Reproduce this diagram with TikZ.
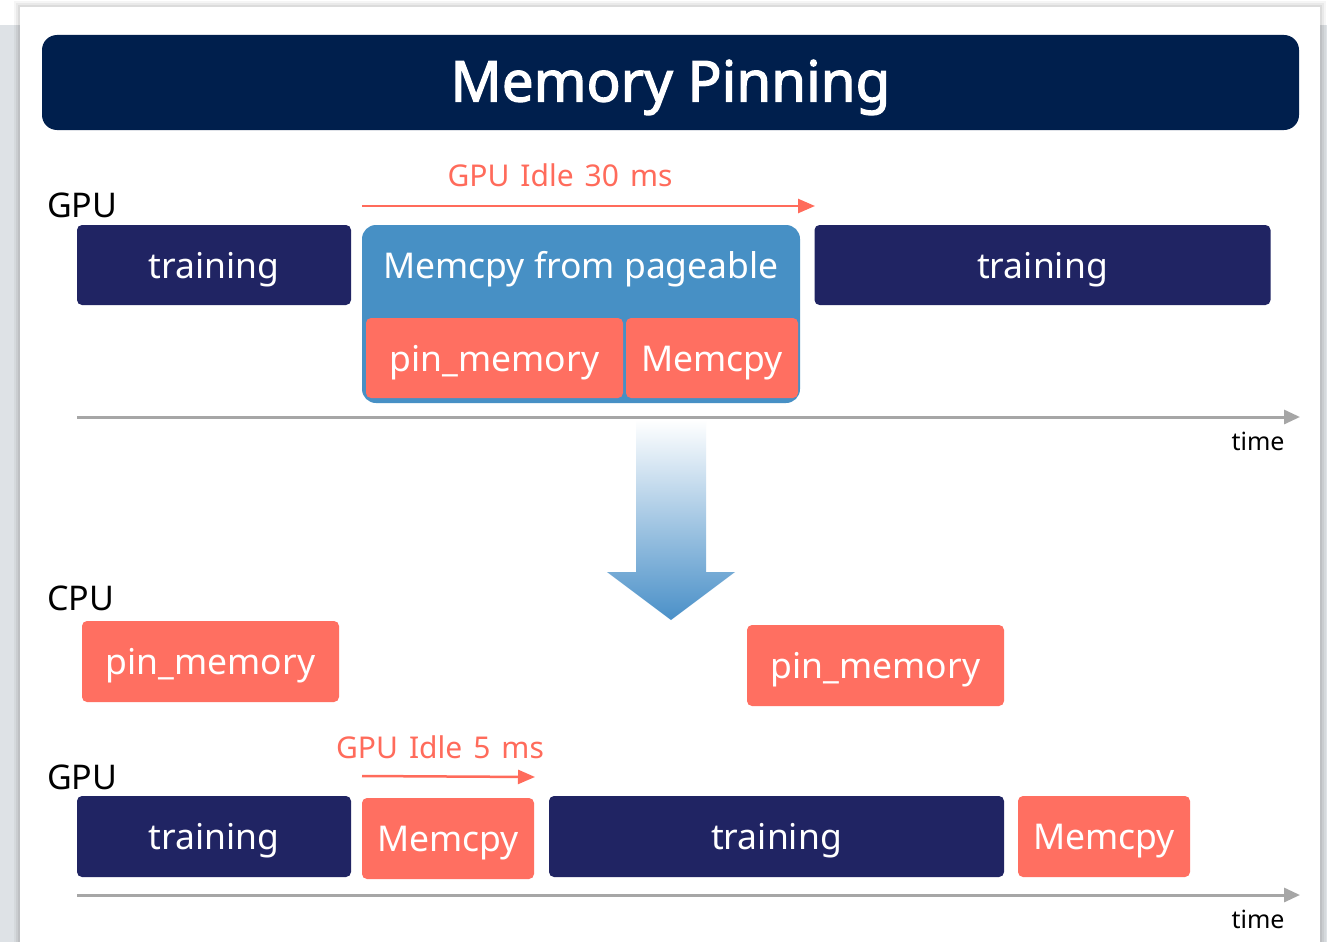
\documentclass[tikz,border=0pt]{standalone}
\usepackage{fontspec}
\setmainfont{Noto Sans}
\newfontfamily\titlefont{Noto Sans}[FakeBold=2.2]
\usetikzlibrary{arrows.meta}
\definecolor{bggray}{HTML}{DEE2E6}
\definecolor{titlenavy}{HTML}{001F4D}
\definecolor{trainnavy}{HTML}{202463}
\definecolor{pageblue}{HTML}{4790C5}
\definecolor{salmon}{HTML}{FF6F61}
\definecolor{salmontext}{HTML}{FF6B5B}
\definecolor{axisgray}{HTML}{A6A6A6}
\definecolor{arrowblue}{HTML}{4A90C8}
\definecolor{arrowmid}{HTML}{A9CDE5}
\newcommand{\wsp}{\hspace{11pt}}
\tikzset{
  boxfont/.style={font=\fontsize{35.5}{40}\selectfont, text height=34pt, text depth=8pt},
  trainbox/.style={boxfont, fill=trainnavy, text=white, rounded corners=5pt, inner sep=0pt},
  pinbox/.style={boxfont, fill=salmon, text=white, rounded corners=5pt, inner sep=0pt},
  pagebox/.style={fill=pageblue, rounded corners=14pt, inner sep=0pt},
  rowlabel/.style={font=\fontsize{34}{40}\selectfont, text=black, anchor=west, inner sep=0pt},
  idlelabel/.style={font=\fontsize{30}{36}\selectfont, text=salmontext, inner sep=0pt},
  idlearrow/.style={draw=salmontext, line width=2.5pt, -{Triangle[length=17pt,width=14pt]}},
  axisline/.style={draw=axisgray, line width=3pt, -{Triangle[length=16pt,width=14pt]}},
  timelabel/.style={font=\fontsize{25}{30}\selectfont, text=black, inner sep=0pt},
}
\begin{document}
\begin{tikzpicture}[x=1pt,y=-1pt]
\useasboundingbox (0,0) rectangle (1327,942);
% background and card
\fill[bggray] (0,25) rectangle (1327,942);
\fill[black, opacity=0.04] (14,1) rectangle (1326,942);
\fill[black, opacity=0.05] (16,3) rectangle (1324,942);
\fill[black, opacity=0.06] (18,5) rectangle (1322,942);
\fill[white] (20,7) rectangle (1320,942);

% title
\node[fill=titlenavy, rounded corners=15pt, minimum width=1257pt, minimum height=95pt, text=white,
      font=\titlefont\fontsize{56.5}{62}\selectfont, text height=52pt, text depth=14pt, inner sep=0pt] (title) at (670.5,82.5) {Memory Pinning};

% ---------- top section ----------
\node[rowlabel] (gpu1) at (47,205) {GPU};
\node[idlelabel] (idle1) at (560,175) {GPU\wsp Idle\wsp 30\wsp ms};
\coordinate (i1s) at (362,206);
\coordinate (i1e) at (815,206);
\draw[idlearrow] (i1s) -- (i1e);

\node[trainbox, minimum width=274pt, minimum height=80pt] (tr1) at (214,265) {training};
\node[pagebox, minimum width=438pt, minimum height=178pt] (page) at (581,314) {};
\node[boxfont, text=white, inner sep=0pt] (pagelbl) at (581,265) {Memcpy from pageable};
\node[pinbox, minimum width=257pt, minimum height=80pt] (pin1) at (494.5,358) {pin\_memory};
\node[pinbox, minimum width=172pt, minimum height=80pt] (mc1) at (712,358) {Memcpy};
\node[trainbox, minimum width=456pt, minimum height=80pt] (tr2) at (1042.5,265) {training};

\coordinate (ax1s) at (77,417);
\coordinate (ax1e) at (1300,417);
\draw[axisline] (ax1s) -- (ax1e);
\node[timelabel] (time1) at (1258,441) {time};

% big down arrow
\shade[top color=white, middle color=arrowmid, bottom color=arrowblue]
  (636,420) -- (706,420) -- (706,572) -- (735,572) -- (671,620) -- (607,572) -- (636,572) -- cycle;

% ---------- bottom section ----------
\node[rowlabel] (cpu) at (47,598) {CPU};
\node[pinbox, minimum width=257pt, minimum height=81pt] (pin2) at (210.5,661.5) {pin\_memory};
\node[pinbox, minimum width=257pt, minimum height=81pt] (pin3) at (875.5,665.5) {pin\_memory};

\node[idlelabel] (idle2) at (440,747) {GPU\wsp Idle\wsp 5\wsp ms};
\coordinate (i2s) at (362,776);
\coordinate (i2e) at (535,777);
\draw[idlearrow] (i2s) -- (i2e);

\node[rowlabel] (gpu2) at (47,777) {GPU};
\node[trainbox, minimum width=274pt, minimum height=81pt] (tr3) at (214,836.5) {training};
\node[pinbox, minimum width=172pt, minimum height=81pt] (mc2) at (448,838.5) {Memcpy};
\node[trainbox, minimum width=455pt, minimum height=81pt] (tr4) at (776.5,836.5) {training};
\node[pinbox, minimum width=172pt, minimum height=81pt] (mc3) at (1104,836.5) {Memcpy};

\coordinate (ax2s) at (77,895);
\coordinate (ax2e) at (1300,895);
\draw[axisline] (ax2s) -- (ax2e);
\node[timelabel] (time2) at (1258,919) {time};
\end{tikzpicture}
\end{document}
